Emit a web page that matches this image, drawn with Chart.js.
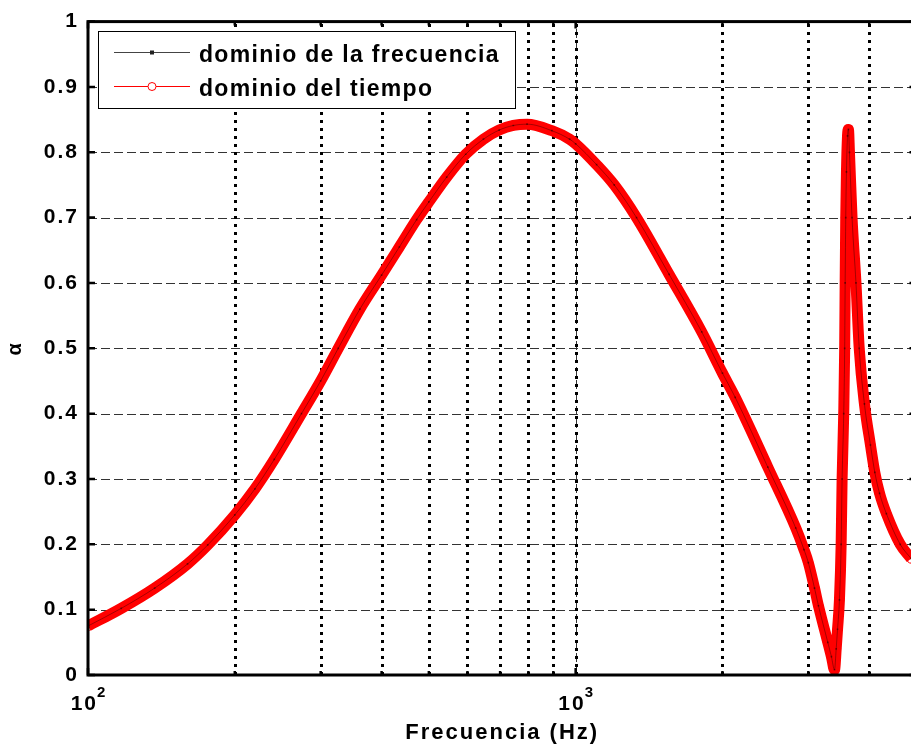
<!DOCTYPE html>
<html>
<head>
<meta charset="utf-8">
<script src="https://cdn.jsdelivr.net/npm/chart.js@4.4.1/dist/chart.umd.min.js"></script>
<style>
  html, body { margin: 0; padding: 0; background: #fff; overflow: hidden; }
  canvas { display: block; }
</style>
</head>
<body>
<canvas id="alphaChart" width="922" height="745"></canvas>
<script>
// frecuencias (Hz)
const freqs = [100, 117, 137, 160, 176, 200, 220, 241, 274, 300, 326, 361, 400, 435, 472, 500,
  544, 595, 647, 697, 745, 795, 894, 972, 1000, 1104, 1200, 1333, 1555, 1814, 2000, 2124, 2478,
  2827, 2939, 3000, 3089, 3147, 3289, 3346, 3395, 3422, 3444, 3475, 3503, 3519, 3546, 3562,
  3570, 3580, 3592, 3610, 3626, 3643, 3688, 3757, 3815, 3910, 4023, 4107, 4200, 4337, 4630, 4876];

// coeficiente de absorcion - dominio de la frecuencia
const alphaFreq = [0.075, 0.102, 0.133, 0.170, 0.199, 0.245, 0.285, 0.330, 0.400, 0.450, 0.500, 0.560,
  0.612, 0.655, 0.697, 0.724, 0.762, 0.797, 0.820, 0.834, 0.841, 0.843, 0.833, 0.820, 0.813, 0.781,
  0.750, 0.700, 0.613, 0.525, 0.462, 0.425, 0.318, 0.225, 0.192, 0.172, 0.133, 0.106, 0.050, 0.028,
  0.008, 0.040, 0.070, 0.115, 0.200, 0.300, 0.400, 0.500, 0.600, 0.700, 0.770, 0.825, 0.835, 0.800,
  0.700, 0.600, 0.500, 0.415, 0.352, 0.310, 0.278, 0.247, 0.200, 0.178];

// coeficiente de absorcion - dominio del tiempo (coincide con la otra curva)
const alphaTime = [0.075, 0.102, 0.133, 0.170, 0.199, 0.245, 0.285, 0.330, 0.400, 0.450, 0.500, 0.560,
  0.612, 0.655, 0.697, 0.724, 0.762, 0.797, 0.820, 0.834, 0.841, 0.843, 0.833, 0.820, 0.813, 0.781,
  0.750, 0.700, 0.613, 0.525, 0.462, 0.425, 0.318, 0.225, 0.192, 0.172, 0.133, 0.106, 0.050, 0.028,
  0.008, 0.040, 0.070, 0.115, 0.200, 0.300, 0.400, 0.500, 0.600, 0.700, 0.770, 0.825, 0.835, 0.800,
  0.700, 0.600, 0.500, 0.415, 0.352, 0.310, 0.278, 0.247, 0.200, 0.178];

const seriesNames = ['dominio de la frecuencia', 'dominio del tiempo'];

// ejes
const yTicks = [0, 0.1, 0.2, 0.3, 0.4, 0.5, 0.6, 0.7, 0.8, 0.9, 1];
const yTickLabels = ['0', '0.1', '0.2', '0.3', '0.4', '0.5', '0.6', '0.7', '0.8', '0.9', '1'];
const xGridTicks = [100, 200, 300, 400, 500, 600, 700, 800, 900, 1000, 2000, 3000, 4000, 5000];
const xTickValues = [100, 1000];
const xTickBase = ['10', '10'];
const xTickExp = ['2', '3'];
const xTitle = 'Frecuencia (Hz)';
const yTitle = 'α';

const FONT = '"Liberation Sans", Arial, Helvetica, sans-serif';

// espaciado de letras tipo MATLAB
const spacingPlugin = {
  id: 'spacing',
  beforeLayout(chart) { chart.ctx.letterSpacing = '2px'; },
  beforeDraw(chart) { chart.ctx.letterSpacing = '2px'; }
};

// rejilla: horizontales discontinuas, verticales punteadas
const gridPlugin = {
  id: 'matlabGrid',
  beforeDatasetsDraw(chart) {
    const { ctx, chartArea: a, scales: { x, y } } = chart;
    ctx.save();
    ctx.lineWidth = 1;
    ctx.strokeStyle = '#333';
    ctx.setLineDash([9, 4]);
    yTicks.forEach(v => {
      if (v <= 0 || v >= 1) return;
      const py = Math.round(y.getPixelForValue(v)) + 0.5;
      ctx.beginPath(); ctx.moveTo(a.left, py); ctx.lineTo(a.right, py); ctx.stroke();
    });
    xTickValues.forEach(v => {
      if (v <= x.min) return;
      const px = Math.round(x.getPixelForValue(v)) + 0.5;
      ctx.beginPath(); ctx.moveTo(px, a.bottom); ctx.lineTo(px, a.top); ctx.stroke();
    });
    ctx.lineWidth = 3;
    ctx.strokeStyle = '#000';
    ctx.setLineDash([3, 5]);
    xGridTicks.forEach(v => {
      if (v <= x.min || v >= x.max) return;
      const px = Math.round(x.getPixelForValue(v)) + 0.5;
      ctx.beginPath(); ctx.moveTo(px, Math.round(a.bottom)); ctx.lineTo(px, a.top); ctx.stroke();
    });
    ctx.restore();
  }
};

// caja de ejes, marcas interiores y etiquetas 10^n
const framePlugin = {
  id: 'matlabFrame',
  afterDatasetsDraw(chart) {
    const { ctx, chartArea: a, scales: { x, y } } = chart;
    ctx.save();
    ctx.setLineDash([]);
    ctx.strokeStyle = '#000';
    ctx.lineWidth = 2.5;
    yTicks.forEach(v => {
      const py = y.getPixelForValue(v);
      ctx.beginPath();
      ctx.moveTo(a.left, py); ctx.lineTo(a.left + 7, py);
      ctx.moveTo(a.right, py); ctx.lineTo(a.right - 7, py);
      ctx.stroke();
    });
    xGridTicks.forEach(v => {
      const px = x.getPixelForValue(v);
      const len = xTickValues.includes(v) ? 7 : 4;
      ctx.beginPath();
      ctx.moveTo(px, a.bottom); ctx.lineTo(px, a.bottom - len);
      ctx.moveTo(px, a.top); ctx.lineTo(px, a.top + len);
      ctx.stroke();
    });
    ctx.lineWidth = 3;
    ctx.strokeRect(a.left, a.top, a.right - a.left, a.bottom - a.top);

    ctx.fillStyle = '#000';
    ctx.letterSpacing = '2px';
    ctx.textBaseline = 'alphabetic';
    xTickValues.forEach((v, i) => {
      const px = x.getPixelForValue(v);
      ctx.font = 'bold 21px ' + FONT;
      ctx.textAlign = 'right';
      ctx.fillText(xTickBase[i], px + 10, a.bottom + 35);
      ctx.font = 'bold 15px ' + FONT;
      ctx.textAlign = 'left';
      ctx.fillText(xTickExp[i], px + 9, a.bottom + 22);
    });
    ctx.restore();
  }
};

// leyenda estilo MATLAB (linea + marcador)
const legendPlugin = {
  id: 'matlabLegend',
  afterDraw(chart) {
    const ctx = chart.ctx;
    const bx = 98.5, by = 31.5, bw = 417, bh = 77;
    ctx.save();
    ctx.setLineDash([]);
    ctx.fillStyle = '#fff';
    ctx.fillRect(bx, by, bw, bh);
    ctx.strokeStyle = '#000';
    ctx.lineWidth = 1;
    ctx.strokeRect(bx, by, bw, bh);
    const rows = [52.5, 86.5];
    seriesNames.forEach((name, i) => {
      const cy = rows[i];
      ctx.lineWidth = 1;
      ctx.strokeStyle = i === 0 ? '#444' : '#ff0000';
      ctx.beginPath(); ctx.moveTo(114, cy); ctx.lineTo(190, cy); ctx.stroke();
      if (i === 0) {
        ctx.fillStyle = '#222';
        ctx.fillRect(150, cy - 2, 4, 4);
      } else {
        ctx.fillStyle = '#fff';
        ctx.beginPath(); ctx.arc(152, cy, 4, 0, Math.PI * 2); ctx.fill(); ctx.stroke();
      }
      ctx.fillStyle = '#000';
      ctx.font = 'bold 23px ' + FONT;
      ctx.letterSpacing = '1.3px';
      ctx.textBaseline = 'alphabetic';
      ctx.textAlign = 'left';
      ctx.fillText(name, 199, cy + 9.2);
    });
    ctx.restore();
  }
};

const ctx = document.getElementById('alphaChart').getContext('2d');

const alphaChart = new Chart(ctx, {
  type: 'line',
  data: {
    datasets: [{
      label: seriesNames[0],
      data: freqs.map((f, i) => ({ x: f, y: alphaFreq[i] })),
      borderColor: 'rgba(0,0,0,0.35)',
      borderWidth: 1,
      pointStyle: 'rect',
      pointRadius: 1.2,
      pointBorderWidth: 0,
      pointBackgroundColor: 'rgba(0,0,0,0.45)',
      cubicInterpolationMode: 'monotone',
      order: 0
    }, {
      label: seriesNames[1],
      data: freqs.map((f, i) => ({ x: f, y: alphaTime[i] })),
      borderColor: '#ff0000',
      borderWidth: 11,
      borderJoinStyle: 'round',
      borderCapStyle: 'butt',
      pointStyle: 'circle',
      pointRadius: 4.5,
      pointBorderWidth: 1,
      pointBorderColor: '#ff0000',
      pointBackgroundColor: 'rgba(0,0,0,0)',
      cubicInterpolationMode: 'monotone',
      order: 1
    }]
  },
  options: {
    responsive: false,
    animation: false,
    layout: { padding: { top: 20, right: 1, left: 0, bottom: 0 } },
    plugins: {
      legend: { display: false },
      tooltip: { enabled: false }
    },
    scales: {
      x: {
        type: 'logarithmic',
        min: 100,
        max: 5000,
        afterBuildTicks: s => { s.ticks = xGridTicks.map(v => ({ value: v })); },
        afterFit: s => { s.height = 70; },
        grid: { display: false, drawTicks: false },
        border: { display: false },
        ticks: { display: false },
        title: {
          display: true,
          text: xTitle,
          color: '#000',
          font: { family: FONT, size: 22, weight: 'bold', lineHeight: 1 },
          padding: { top: 0, bottom: 1 }
        }
      },
      y: {
        min: 0,
        max: 1,
        afterBuildTicks: s => { s.ticks = yTicks.map(v => ({ value: v })); },
        afterFit: s => { s.width = 88; },
        grid: { display: false, drawTicks: false },
        border: { display: false },
        ticks: {
          padding: 9,
          color: '#000',
          font: { family: FONT, size: 21, weight: 'bold' },
          callback: (v, i) => yTickLabels[i]
        },
        title: {
          display: true,
          text: yTitle,
          color: '#000',
          font: { family: FONT, size: 20, weight: 'bold', lineHeight: 1 },
          padding: { top: 5, bottom: 0 }
        }
      }
    }
  },
  plugins: [spacingPlugin, gridPlugin, framePlugin, legendPlugin]
});
</script>
</body>
</html>
